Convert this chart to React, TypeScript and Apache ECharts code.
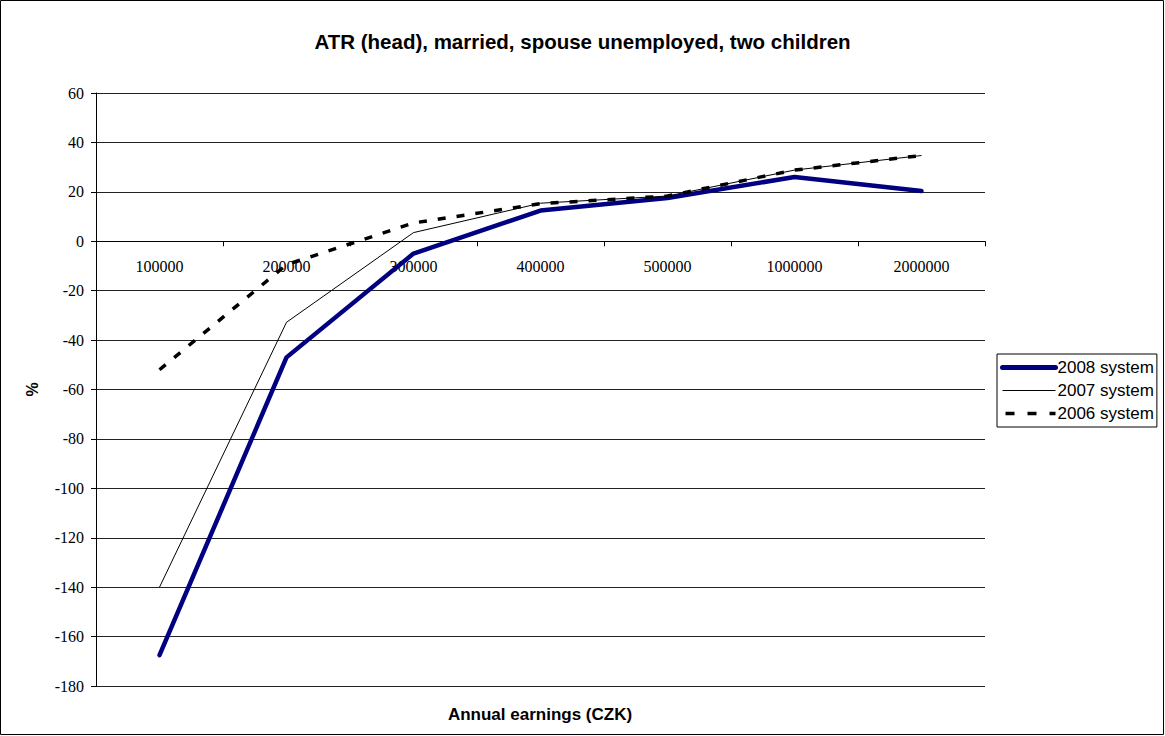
import React, { useEffect, useRef } from "react";
import * as echarts from "echarts";

const categories = ["100000", "200000", "300000", "400000", "500000", "1000000", "2000000"];
const sys2008 = [-167.5, -47, -5, 12.4, 17.5, 26, 20.3];
const sys2007 = [-140, -32.8, 3.5, 15.4, 18.3, 28.8, 34.7];
const sys2006 = [-52, -9.5, 7.4, 15.2, 18.3, 28.8, 34.7];
const yTicks = { min: -180, max: 60, interval: 20 };

export default function App() {
  const ref = useRef<HTMLDivElement>(null);
  useEffect(() => {
    document.body.style.margin = "0";
    const chart = echarts.init(ref.current!, null, { renderer: "svg" });
    chart.setOption({
      animation: false,
      backgroundColor: "#fff",
      title: {
        text: "ATR (head), married, spouse unemployed, two children",
        left: "center",
        top: 26,
        textStyle: { fontFamily: "Liberation Sans", fontWeight: "bold", fontSize: 20.5, color: "#000" },
      },
      grid: { left: 96, right: 180, top: 93, bottom: 50, containLabel: false },
      legend: {
        orient: "vertical",
        left: 997,
        top: 354,
        itemWidth: 53,
        itemHeight: 14,
        itemGap: 6,
        padding: [5, 3, 5, 3],
        borderColor: "#000",
        borderWidth: 1,
        itemStyle: { opacity: 0 },
        textStyle: { fontFamily: "Liberation Sans", fontSize: 17, color: "#000", padding: [0, 0, 0, -3] },
        data: [
          { name: "2008 system", lineStyle: { color: "#000080", width: 5, cap: "round" } },
          { name: "2007 system", lineStyle: { color: "#000", width: 1 } },
          { name: "2006 system", lineStyle: { color: "#000", width: 3.5, type: [9, 13], dashOffset: -3 } },
        ],
      },
      xAxis: {
        type: "category",
        data: categories,
        boundaryGap: true,
        axisLine: { onZero: true, lineStyle: { color: "#000", width: 1 } },
        axisTick: { show: true, length: 5, inside: false, lineStyle: { color: "#000" } },
        axisLabel: { fontFamily: "Liberation Serif", fontSize: 16, color: "#000", margin: -428 },
        splitLine: { show: false },
      },
      yAxis: {
        type: "value",
        min: yTicks.min,
        max: yTicks.max,
        interval: yTicks.interval,
        name: "%",
        nameLocation: "middle",
        nameRotate: 90,
        nameGap: 56,
        nameTextStyle: { fontFamily: "Liberation Sans", fontWeight: "bold", fontSize: 16, color: "#000" },
        axisLine: { show: true, lineStyle: { color: "#000" } },
        axisTick: { show: true, length: 5, lineStyle: { color: "#000" } },
        axisLabel: { fontFamily: "Liberation Serif", fontSize: 16, color: "#000", margin: 12 },
        splitLine: { show: true, lineStyle: { color: "#222", width: 1 } },
      },
      graphic: [
        {
          type: "rect",
          shape: { x: 0.5, y: 0.5, width: 1163, height: 734 },
          style: { fill: "none", stroke: "#000", lineWidth: 1 },
          silent: true,
        },
        {
          type: "text",
          x: 540,
          y: 714,
          style: {
            text: "Annual earnings (CZK)",
            fontFamily: "Liberation Sans",
            fontWeight: "bold",
            fontSize: 17,
            fill: "#000",
            align: "center",
            verticalAlign: "middle",
          },
        },
      ],
      series: [
        {
          name: "2008 system",
          type: "line",
          data: sys2008,
          showSymbol: false,
          symbol: "none",
          lineStyle: { color: "#000080", width: 4.5, cap: "round" },
          itemStyle: { color: "#000080" },
          z: 3,
        },
        {
          name: "2007 system",
          type: "line",
          data: sys2007,
          showSymbol: false,
          symbol: "none",
          lineStyle: { color: "#000", width: 1 },
          itemStyle: { color: "#000" },
          z: 4,
        },
        {
          name: "2006 system",
          type: "line",
          data: sys2006,
          showSymbol: false,
          symbol: "none",
          lineStyle: { color: "#000", width: 3.5, type: [8, 11] },
          itemStyle: { color: "#000" },
          z: 5,
        },
      ],
    });
    return () => chart.dispose();
  }, []);
  return <div ref={ref} style={{ width: 1165, height: 736 }} />;
}
